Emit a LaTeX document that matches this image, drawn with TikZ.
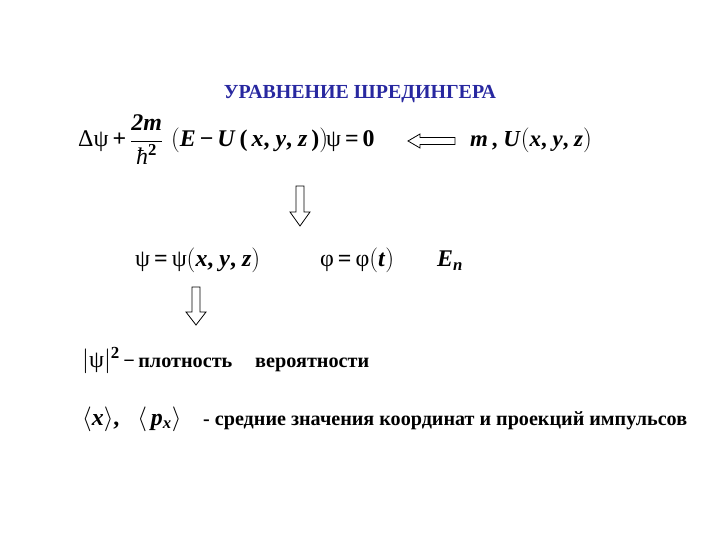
\documentclass[tikz,border=0pt]{standalone}
\usepackage{fontspec}
\setmainfont{Liberation Serif}
\definecolor{titleblue}{RGB}{40,40,160}
\newcommand\bi[1]{\textbf{\textit{#1}}}
\newcommand\gk[1]{{\mdseries #1}}
\tikzset{
  txt/.style={anchor=base west, inner sep=0pt, font=\fontsize{20.3}{24}\selectfont\bfseries},
  frm/.style={anchor=base west, inner sep=0pt, font=\fontsize{24}{28}\selectfont\bfseries},
  blockarrow/.style={draw=black, line width=0.8pt, fill=white, line join=miter}
}
\begin{document}
\begin{tikzpicture}[x=1bp,y=-1bp]
\useasboundingbox (0,0) rectangle (720,540);
% title
\node[anchor=base, inner sep=0pt, text=titleblue, font=\fontsize{20}{24}\selectfont\bfseries] (title) at (360,99) {УРАВНЕНИЕ ШРЕДИНГЕРА};
% equation 1
\node[frm] (eq) at (78,147) {\gk{Δψ}\,+\,$\displaystyle\frac{\hbox{\bi{2m}}}{\hbox{\textit{\mdseries ħ}\textsuperscript{\bfseries 2}}}$\,\,$\Bigl($\bi{E}\,−\,\bi{U}\,(\,\bi{x}, \bi{y}, \bi{z}\,)$\Bigr)$\kern-2bp\gk{ψ}\,=\,0};
\node[frm, font=\fontsize{23}{27}\selectfont\bfseries] (mU) at (470,147) {\bi{m}\,, \bi{U}$\bigl($\bi{x}, \bi{y}, \bi{z}$\bigr)$};
% left arrow
\draw[blockarrow] (408,141) -- (420,134) -- (420,137.5) -- (455,137.5) -- (455,144.5) -- (420,144.5) -- (420,148) -- cycle;
% down arrow 1
\draw[blockarrow] (296,186) -- (304,186) -- (304,212) -- (310,212) -- (300,226) -- (290,212) -- (296,212) -- cycle;
% row 2
\node[frm] (psi) at (135,267) {\gk{ψ}\,=\,\gk{ψ}$\bigl($\bi{x}, \bi{y}, \bi{z}$\bigr)$};
\node[frm] (phi) at (320,267) {\gk{φ}\,=\,\gk{φ}$\bigl($\bi{t}$\bigr)$};
\node[frm] (En) at (437,267) {\bi{E}\textsubscript{\bi{n}}};
% down arrow 2
\draw[blockarrow] (192,287) -- (200,287) -- (200,312) -- (206,312) -- (196,325) -- (186,312) -- (192,312) -- cycle;
% row 3
\node[frm] (dens) at (82,367) {$\Big|$\gk{ψ}$\Big|$\raisebox{9bp}{\fontsize{17}{19}\selectfont 2}\,{\fontsize{20.3}{24}\selectfont −\,плотность}};
\node[txt] (prob) at (255,367) {вероятности};
% row 4
\node[frm] (avg) at (82,425) {$\Big\langle$\bi{x}$\Big\rangle$,\ \ \ $\Big\langle$\,\bi{p}\textsubscript{\bi{x}}$\Big\rangle$};
\node[txt, font=\fontsize{20.2}{24}\selectfont\bfseries] (avgtxt) at (203,425) {- средние значения координат и проекций импульсов};
\end{tikzpicture}
\end{document}
